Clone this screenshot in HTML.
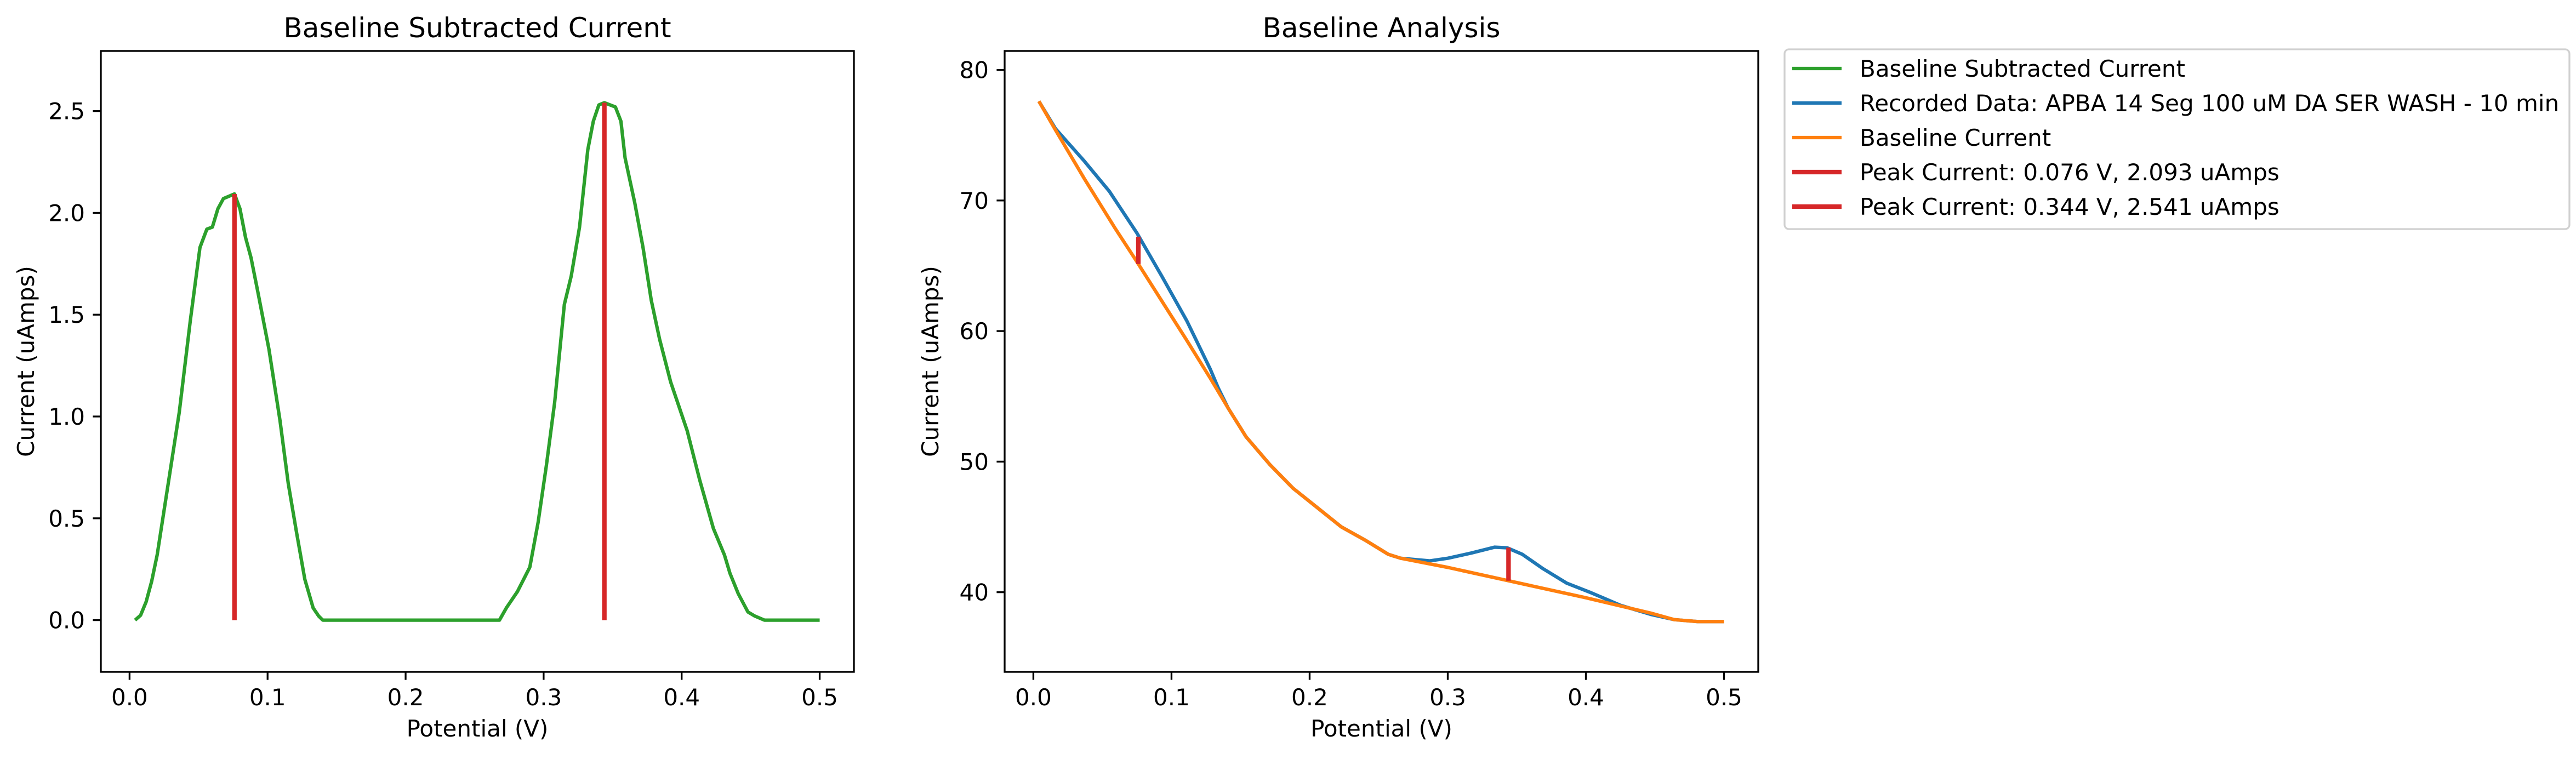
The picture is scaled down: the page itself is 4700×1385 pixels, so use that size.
<!DOCTYPE html>
<html><head><meta charset="utf-8"><style>
html,body{margin:0;padding:0;background:#fff;}
svg{display:block;font-family:"DejaVu Sans","Liberation Sans",sans-serif;}
</style></head><body>
<svg id="fig" width="4700" height="1385" viewBox="0 0 4700 1385" xmlns="http://www.w3.org/2000/svg">
<rect width="4700" height="1385" fill="#fff"/>
<g id="left"></g>
<g id="right"></g>
<g id="legend"></g>
</svg>
<script>
// ---- data ----
const subX = [0.004,0.008,0.012,0.016,0.020,0.028,0.036,0.044,0.051,0.056,0.060,0.064,0.068,0.076,0.080,0.084,0.088,0.093,0.101,0.109,0.115,0.121,0.127,0.133,0.137,0.140,0.268,0.273,0.281,0.290,0.296,0.302,0.308,0.315,0.320,0.326,0.332,0.336,0.340,0.344,0.352,0.356,0.359,0.366,0.372,0.378,0.384,0.392,0.398,0.404,0.413,0.423,0.431,0.435,0.441,0.448,0.453,0.460,0.500];
const subY = [0,0.024,0.09,0.19,0.32,0.67,1.02,1.47,1.83,1.92,1.93,2.02,2.07,2.093,2.02,1.88,1.78,1.61,1.33,0.98,0.67,0.43,0.20,0.06,0.02,0,0,0.06,0.14,0.26,0.48,0.76,1.07,1.55,1.69,1.93,2.31,2.45,2.53,2.541,2.52,2.45,2.27,2.05,1.83,1.57,1.38,1.17,1.05,0.93,0.69,0.45,0.32,0.23,0.13,0.04,0.02,0,0];
const baseX = [0.004,0.016,0.037,0.059,0.075,0.093,0.111,0.128,0.141,0.154,0.171,0.188,0.197,0.210,0.223,0.240,0.257,0.266,0.300,0.343,0.399,0.447,0.464,0.481,0.500];
const baseY = [77.6,75.4,71.65,67.9,65.3,62.3,59.3,56.4,54.1,51.9,49.8,47.96,47.2,46.1,45.0,44.0,42.9,42.6,41.9,40.9,39.6,38.4,37.9,37.75,37.75];
const recX = [0.004,0.016,0.037,0.055,0.075,0.093,0.111,0.128,0.134,0.141,0.154,0.171,0.188,0.197,0.210,0.223,0.240,0.257,0.266,0.287,0.300,0.317,0.334,0.343,0.354,0.369,0.386,0.404,0.425,0.447,0.464,0.481,0.500];
const recY = [77.6,75.5,73.0,70.7,67.5,64.2,60.8,57.1,55.6,54.1,51.9,49.8,47.96,47.2,46.1,45.0,44.0,42.9,42.6,42.4,42.6,43.0,43.45,43.4,42.9,41.8,40.7,39.95,39.0,38.3,37.9,37.75,37.75];
const peakV = [0.076, 0.344];
const peakI = [2.093, 2.541];
const xTicks = [0.0,0.1,0.2,0.3,0.4,0.5];
const leftYTicks = [0.0,0.5,1.0,1.5,2.0,2.5];
const rightYTicks = [40,50,60,70,80];
const legendLabels = ["Baseline Subtracted Current","Recorded Data: APBA 14 Seg 100 uM DA SER WASH - 10 min","Baseline Current","Peak Current: 0.076 V, 2.093 uAmps","Peak Current: 0.344 V, 2.541 uAmps"];
const legendColors = ["#2ca02c","#1f77b4","#ff7f0e","#d62728","#d62728"];
const legendWidths = [6.25,6.25,6.25,8.3,8.3];

const NS="http://www.w3.org/2000/svg";
function mk(parent,tag,attrs,text){const e=document.createElementNS(NS,tag);for(const k in attrs)e.setAttribute(k,attrs[k]);if(text!==undefined)e.textContent=text;parent.appendChild(e);return e;}
function interp(xs,ys,x){for(let i=0;i<xs.length-1;i++){if(x>=xs[i]&&x<=xs[i+1]){const t=(x-xs[i])/(xs[i+1]-xs[i]);return ys[i]+t*(ys[i+1]-ys[i]);}}return ys[ys.length-1];}

function axes(g,L,R,T,B,xmin,xmax,ymin,ymax,yt,yfmt,title,ylabX){
  const sx=v=>L+(v-xmin)/(xmax-xmin)*(R-L);
  const sy=v=>B-(v-ymin)/(ymax-ymin)*(B-T);
  xTicks.forEach(v=>{
    const t=mk(g,'line',{x1:sx(v),x2:sx(v),y1:B,y2:B+14.6,stroke:'#000','stroke-width':3.3});
    
    
    const l=mk(g,'text',{x:sx(v),y:1287,'font-size':42,'text-anchor':'middle'},v.toFixed(1));
    
    
  });
  yt.forEach(v=>{
    const t=mk(g,'line',{x1:L-14.6,x2:L,y1:sy(v),y2:sy(v),stroke:'#000','stroke-width':3.3});
    
    
    const l=mk(g,'text',{x:L-29,y:sy(v)+15,'font-size':42,'text-anchor':'end'},yfmt(v));
    
    
  });
  const tt=mk(g,'text',{x:(L+R)/2,y:68,'font-size':50,'text-anchor':'middle'},title);
  
  
  const xl=mk(g,'text',{x:(L+R)/2,y:1344,'font-size':42,'text-anchor':'middle'},'Potential (V)');
  
  
  const yl=mk(g,'text',{x:ylabX,y:(T+B)/2,'font-size':42,'text-anchor':'middle',transform:`rotate(-90 ${ylabX} ${(T+B)/2})`},'Current (uAmps)');
  
  
  return {sx,sy};
}
function frame(g,L,R,T,B){
  const f=mk(g,'rect',{x:L,y:T,width:R-L,height:B-T,fill:'none',stroke:'#000','stroke-width':3.3});
  
  
}
function poly(g,xs,ys,sx,sy,color,name){
  const p=mk(g,'polyline',{points:xs.map((x,i)=>sx(x)+','+sy(ys[i])).join(' '),fill:'none',stroke:color,'stroke-width':6.25,'stroke-linejoin':'round'});
  
  
}
const XMIN=-0.0208,XMAX=0.5248;
// left
{
  const g=document.getElementById('left');
  const L=184,R=1558,T=93,B=1226;
  const {sx,sy}=axes(g,L,R,T,B,XMIN,XMAX,-0.2541,2.7951,leftYTicks,v=>v.toFixed(1),'Baseline Subtracted Current',62);
  poly(g,subX,subY,sx,sy,'#2ca02c','baseline-subtracted-line');
  peakV.forEach((v,i)=>{
    const l=mk(g,'line',{x1:sx(v),x2:sx(v),y1:sy(0),y2:sy(peakI[i]),stroke:'#d62728','stroke-width':8.3});
    
    
  });
  frame(g,L,R,T,B);
}
// right
{
  const g=document.getElementById('right');
  const L=1833,R=3208,T=93,B=1226;
  const {sx,sy}=axes(g,L,R,T,B,XMIN,XMAX,33.9,81.45,rightYTicks,v=>String(v),'Baseline Analysis',1712);
  poly(g,recX,recY,sx,sy,'#1f77b4','recorded-data-line');
  poly(g,baseX,baseY,sx,sy,'#ff7f0e','baseline-current-line');
  peakV.forEach((v,i)=>{
    const b=interp(baseX,baseY,v);
    const l=mk(g,'line',{x1:sx(v),x2:sx(v),y1:sy(b),y2:sy(b+peakI[i]),stroke:'#d62728','stroke-width':8.3});
    
    
  });
  frame(g,L,R,T,B);
}
// legend
{
  const g=document.getElementById('legend');
  const box=mk(g,'rect',{x:3256,y:90,width:1432,height:328,rx:8,fill:'#fff',stroke:'#d0d0d0','stroke-width':3.3});
  
  
  legendLabels.forEach((lab,i)=>{
    const y=125+i*63;
    const h=mk(g,'line',{x1:3270,x2:3360,y1:y,y2:y,stroke:legendColors[i],'stroke-width':legendWidths[i]});
    
    
    const t=mk(g,'text',{x:3393,y:y+15,'font-size':42},lab);
    
    
  });
}
</script>
</body></html>
